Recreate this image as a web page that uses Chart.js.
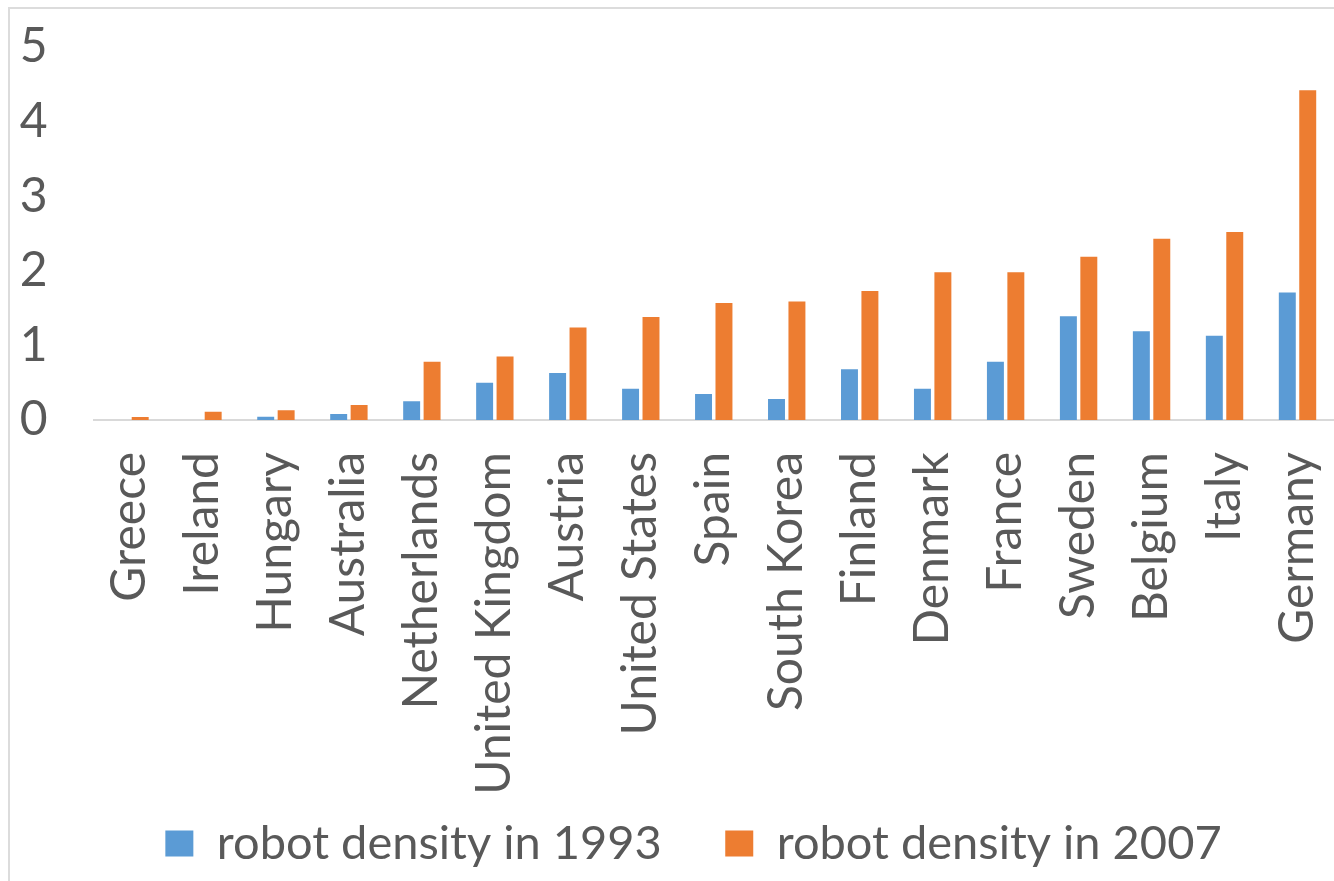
<!DOCTYPE html>
<html>
<head>
<meta charset="utf-8">
<script src="https://cdn.jsdelivr.net/npm/chart.js@4"></script>
<style>
    body { margin: 0; background: #ffffff; overflow: hidden; }
    .frame {
        position: absolute; left: 8px; top: 7px; width: 1340px; height: 890px;
        border-top: 2px solid #dcdcdc; border-left: 2px solid #dcdcdc;
    }
    .chart-container { position: absolute; left: 10px; top: 9px; width: 1324px; height: 872px; }
</style>
</head>
<body>
<div class="frame"></div>
<div class="chart-container"><canvas id="barChart" width="1324" height="872"></canvas></div>
<script>
const countries = ['Greece', 'Ireland', 'Hungary', 'Australia', 'Netherlands', 'United Kingdom', 'Austria',
    'United States', 'Spain', 'South Korea', 'Finland', 'Denmark', 'France', 'Sweden', 'Belgium', 'Italy', 'Germany'];
const density1993 = [0, 0, 0.045, 0.08, 0.25, 0.5, 0.63, 0.42, 0.35, 0.28, 0.68, 0.42, 0.78, 1.39, 1.19, 1.13, 1.71];
const density2007 = [0.04, 0.11, 0.13, 0.2, 0.78, 0.85, 1.24, 1.38, 1.57, 1.59, 1.73, 1.98, 1.98, 2.19, 2.43, 2.52, 4.42];
const yTicks = [0, 1, 2, 3, 4, 5];

const textColor = '#595959';
const fontFamily = 'Lato, "Open Sans", sans-serif';
const legendFontSize = 47;
const legendPadding = 63.5;

const ctx = document.getElementById('barChart').getContext('2d');

// the original legend sits a bit right of the canvas centre (chart was cropped on the right),
// and the big horizontal gap between items would otherwise push the legend row down
const legendShift = {
    id: 'legendShift',
    afterLayout: function(chart) {
        const legend = chart.legend;
        legend.left += 21.5;
        legend.right += 21.5;
        legend.top = 834.5 - legendPadding - legendFontSize / 2;
    }
};

let chartConfig = {
    type: 'bar',
    data: {
        labels: countries,
        datasets: [
            {
                label: 'robot density in 1993',
                data: density1993,
                backgroundColor: '#5b9bd5',
                borderWidth: 0
            },
            {
                label: 'robot density in 2007',
                data: density2007,
                backgroundColor: '#ed7d31',
                borderWidth: 0
            }
        ]
    },
    options: {
        responsive: false,
        animation: false,
        categoryPercentage: 0.56,
        barPercentage: 0.83,
        layout: {
            padding: { top: 38, left: 0, right: 0, bottom: 0 }
        },
        plugins: {
            legend: {
                position: 'bottom',
                maxHeight: 75,
                labels: {
                    color: textColor,
                    font: { family: fontFamily, size: legendFontSize },
                    boxWidth: 28,
                    boxHeight: 26,
                    padding: legendPadding
                }
            },
            tooltip: { enabled: false }
        },
        scales: {
            y: {
                min: 0,
                max: 5,
                afterBuildTicks: function(axis) {
                    axis.ticks = yTicks.map(v => ({ value: v }));
                },
                afterFit: function(axis) {
                    axis.width = 83.5;
                    axis.paddingTop = 0;
                    axis.paddingBottom = 0;
                },
                grid: { display: false },
                border: { display: false },
                ticks: {
                    color: textColor,
                    font: { family: fontFamily, size: 48 },
                    padding: 38
                }
            },
            x: {
                afterFit: function(axis) {
                    axis.height = 386;
                    axis.paddingLeft = 0;
                    axis.paddingRight = 0;
                },
                grid: { display: false },
                border: { display: true, color: '#d9d9d9', width: 2 },
                ticks: {
                    color: textColor,
                    font: { family: fontFamily, size: 48 },
                    minRotation: 90,
                    maxRotation: 90,
                    padding: 24
                }
            }
        }
    },
    plugins: [legendShift]
};

let myChart = new Chart(ctx, chartConfig);
</script>
</body>
</html>
